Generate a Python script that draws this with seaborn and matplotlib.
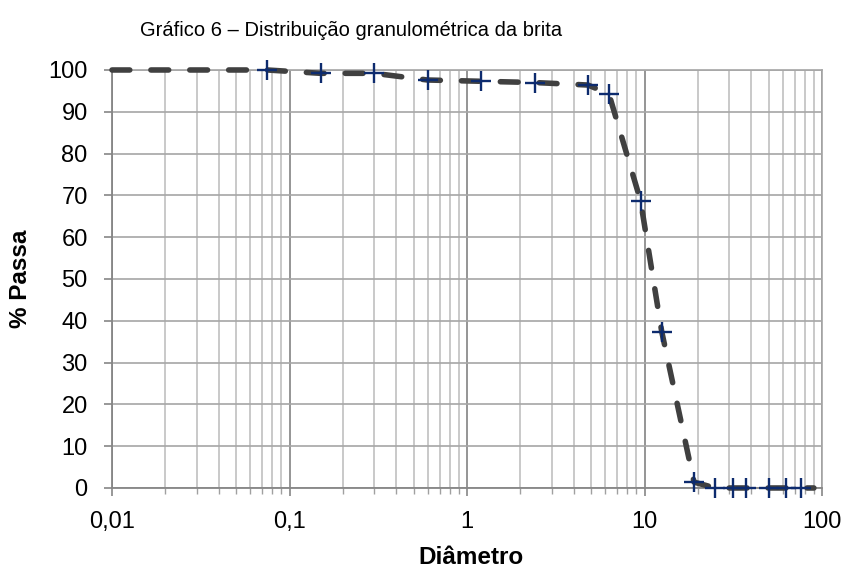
import matplotlib
matplotlib.use("Agg")
import matplotlib.pyplot as plt
import matplotlib.ticker as mticker
import seaborn as sns
import numpy as np

# Sieve openings (mm) and cumulative percentage passing
diametro = [0.075, 0.15, 0.3, 0.6, 1.2, 2.4, 4.8, 6.3, 9.5, 12.5,
            19, 25, 31.5, 37.5, 50, 63, 76]
passa = [100.0, 99.2, 99.2, 97.6, 97.3, 97.0, 96.4, 94.3, 68.7, 37.4,
         1.4, 0.0, 0.0, 0.0, 0.0, 0.0, 0.0]

# Curve drawn through the points, extended to the chart limits
curva_x = [0.01] + diametro + [90]
curva_y = [100.0] + passa + [0.0]

x_ticks = [0.01, 0.1, 1, 10, 100]
x_labels = ["0,01", "0,1", "1", "10", "100"]
y_ticks = list(range(0, 101, 10))

sns.set_theme(style="white")
plt.rcParams["font.family"] = ["Liberation Sans", "DejaVu Sans"]
plt.rcParams["text.color"] = "black"
plt.rcParams["axes.labelcolor"] = "black"

fig = plt.figure(figsize=(8.53, 5.69), dpi=100)
ax = fig.add_axes([0.1313, 0.1424, 0.8324, 0.7346])

ax.set_xscale("log")
ax.set_xlim(0.01, 100)
ax.set_ylim(0, 100)

# Grid: decades darker, minor lines lighter
ax.xaxis.set_major_locator(mticker.FixedLocator(x_ticks))
ax.xaxis.set_minor_locator(mticker.LogLocator(base=10, subs=np.arange(2, 10)))
ax.xaxis.set_major_formatter(mticker.FixedFormatter(x_labels))
ax.xaxis.set_minor_formatter(mticker.NullFormatter())
ax.set_yticks(y_ticks)

ax.grid(which="major", axis="x", color="#8c8c8c", linewidth=1.3)
ax.grid(which="minor", axis="x", color="#c0c0c0", linewidth=1.2)
ax.grid(which="major", axis="y", color="#a6a6a6", linewidth=1.2)
ax.set_axisbelow(True)

for side in ["top", "right"]:
    ax.spines[side].set_color("#a6a6a6")
    ax.spines[side].set_linewidth(1.2)
for side in ["left", "bottom"]:
    ax.spines[side].set_color("#868686")
    ax.spines[side].set_linewidth(1.3)

ax.tick_params(axis="both", which="major", direction="out", length=5.5,
               width=1.2, color="#868686", labelsize=17, labelcolor="black")
ax.tick_params(axis="x", which="minor", direction="out", length=4,
               width=1.0, color="#a0a0a0", bottom=True)
ax.tick_params(axis="y", which="major", left=True, pad=12)
ax.tick_params(axis="x", which="major", bottom=True, pad=11)

sns.lineplot(x=curva_x, y=curva_y, ax=ax, color="#404040",
             linewidth=4.0, sort=False, zorder=3, clip_on=False)
ln = ax.get_lines()[-1]
ln.set_dashes((3.2, 3.8))
ln.set_dash_capstyle("round")
ln.set_solid_capstyle("round")

sns.scatterplot(x=diametro, y=passa, ax=ax, marker="+", s=190,
                color="#0d2b6e", linewidth=1.7, zorder=4, clip_on=False)

ax.set_xlabel("Diâmetro", fontsize=17.5, fontweight="bold", color="black")
ax.set_ylabel("% Passa", fontsize=17.5, fontweight="bold", color="black")
ax.xaxis.set_label_coords(0.506, -0.14)
ax.yaxis.set_label_coords(-0.113, 0.5)
fig.text(0.412, 0.947, "Gráfico 6 – Distribuição granulométrica da brita",
         ha="center", va="center", fontsize=14.5, color="black")

fig.savefig("out.png", dpi=100)
